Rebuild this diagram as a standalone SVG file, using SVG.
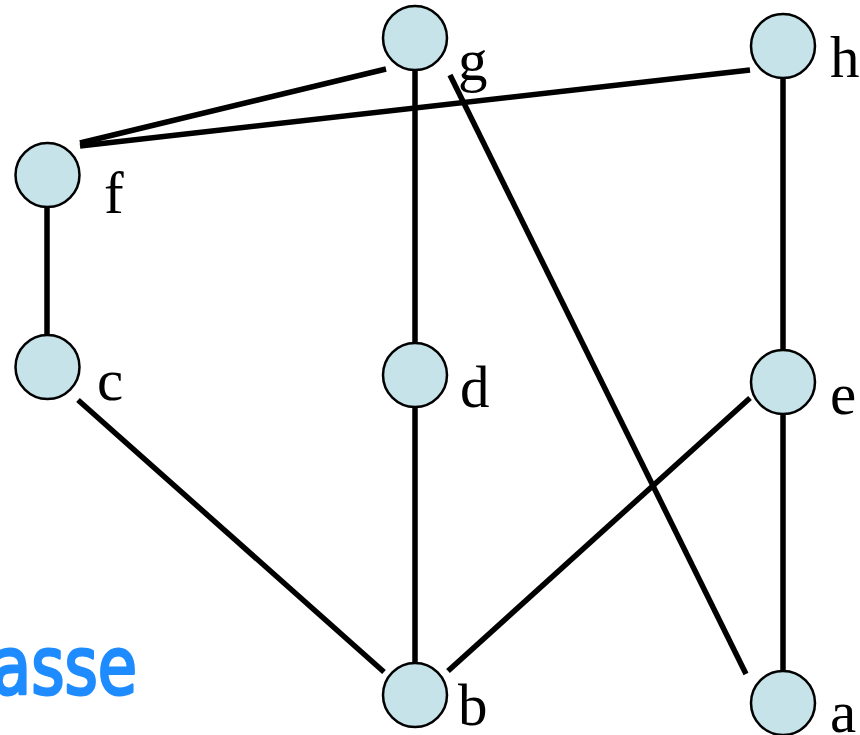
<svg xmlns="http://www.w3.org/2000/svg" width="860" height="735" viewBox="0 0 860 735">
<style>
.n{fill:#c5e3e8;stroke:#000;stroke-width:2.5}
.l{font-family:"Liberation Serif",serif;font-size:59px;fill:#000}
.e{stroke:#000;stroke-width:5.5;fill:none}
.t{font-family:"Comic Sans MS","DejaVu Sans",sans-serif;font-size:80px;fill:#1e8cff;stroke:#1e8cff;stroke-width:3;stroke-linejoin:round}
</style>
<rect width="860" height="735" fill="#fff"/>
<g id="edges">
<line class="e" x1="80" y1="143" x2="386" y2="69"/>
<line class="e" x1="80" y1="146" x2="750" y2="70"/>
<line class="e" x1="415" y1="70" x2="415" y2="343"/>
<line class="e" x1="450" y1="75" x2="746" y2="674"/>
<line class="e" x1="783" y1="79" x2="783" y2="350"/>
<line class="e" x1="47" y1="207" x2="47" y2="335"/>
<line class="e" x1="78" y1="400" x2="384" y2="672"/>
<line class="e" x1="415" y1="407" x2="415" y2="663"/>
<line class="e" x1="750" y1="398" x2="448" y2="671"/>
<line class="e" x1="783" y1="415" x2="783" y2="671"/>
</g>
<g id="g"><circle class="n" cx="415" cy="38" r="32"/><text class="l" x="458" y="80">g</text></g>
<g id="h"><circle class="n" cx="783" cy="46" r="32"/><text class="l" x="830" y="77">h</text></g>
<g id="f"><circle class="n" cx="47.5" cy="175" r="32"/><text class="l" x="104" y="213">f</text></g>
<g id="c"><circle class="n" cx="47.5" cy="367" r="32"/><text class="l" x="97" y="400">c</text></g>
<g id="d"><circle class="n" cx="415" cy="375" r="32"/><text class="l" x="460" y="407">d</text></g>
<g id="e"><circle class="n" cx="783" cy="382" r="32"/><text class="l" x="830" y="414">e</text></g>
<g id="b"><circle class="n" cx="415" cy="695" r="32"/><text class="l" x="458" y="725">b</text></g>
<g id="a"><circle class="n" cx="783" cy="703" r="32"/><text class="l" x="830" y="732">a</text></g>
<text class="t" x="-8" y="694" textLength="145" lengthAdjust="spacingAndGlyphs">asse</text>
</svg>
